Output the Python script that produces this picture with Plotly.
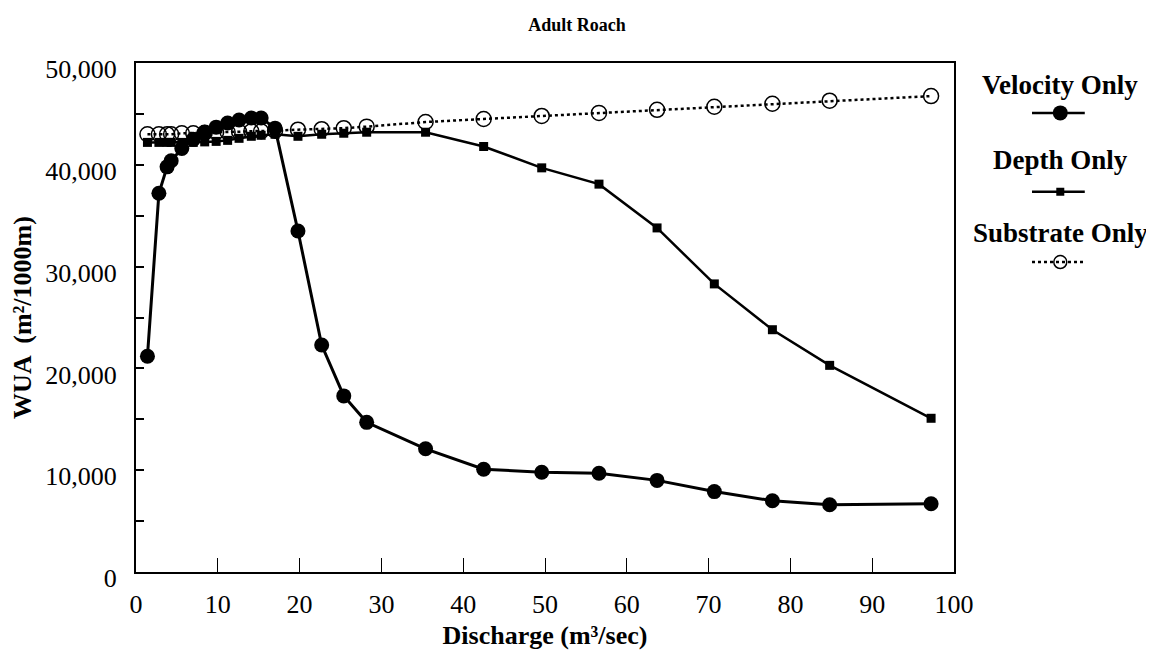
import plotly.graph_objects as go

discharge = [1.4, 2.8, 3.8, 4.3, 5.6, 7.0, 8.4, 9.8, 11.2, 12.6, 14.1, 15.3, 17.0,
             19.8, 22.7, 25.4, 28.2, 35.4, 42.5, 49.6, 56.6, 63.7, 70.7, 77.8, 84.8, 97.2]
velocity_only = [21200, 37200, 39800, 40400, 41600, 42500, 43200, 43700, 44100, 44400,
                 44600, 44600, 43600, 33500, 22300, 17300, 14700, 12100, 10100, 9800,
                 9700, 9000, 7900, 7000, 6600, 6700]
depth_only = [42200, 42200, 42200, 42200, 42200, 42200, 42250, 42300, 42400, 42600,
              42800, 42900, 43000, 42800, 43000, 43100, 43200, 43200, 41800, 39700,
              38100, 33800, 28300, 23800, 20300, 15100]
substrate_only = [43000, 43000, 43000, 43000, 43100, 43100, 43150, 43200, 43200, 43250,
                  43300, 43300, 43350, 43450, 43500, 43600, 43750, 44200, 44500, 44800,
                  45100, 45400, 45700, 46000, 46300, 46750]
series_names = ["Velocity Only", "Depth Only", "Substrate Only"]

FONT = "Liberation Serif, Times New Roman, serif"

fig = go.Figure()
fig.add_trace(go.Scatter(x=discharge, y=velocity_only, mode="lines+markers",
                         name=series_names[0], line=dict(color="black", width=3),
                         marker=dict(symbol="circle", size=15, color="black")))
fig.add_trace(go.Scatter(x=discharge, y=depth_only, mode="lines+markers",
                         name=series_names[1], line=dict(color="black", width=2.5),
                         marker=dict(symbol="square", size=9, color="black")))
fig.add_trace(go.Scatter(x=discharge, y=substrate_only, mode="lines+markers",
                         name=series_names[2], line=dict(color="black", width=2.5, dash="dot"),
                         marker=dict(symbol="circle-open", size=15, color="black",
                                     line=dict(width=1.5, color="black"))))

# legend samples drawn on an auxiliary hidden axis
leg_y = [0.902, 0.747, 0.609]
leg_text_y = [0.957, 0.809, 0.666]
styles = [
    dict(line=dict(color="black", width=2.5), marker=dict(symbol="circle", size=15, color="black")),
    dict(line=dict(color="black", width=2.5), marker=dict(symbol="square", size=8, color="black")),
    dict(line=dict(color="black", width=2.5, dash="dot"),
         marker=dict(symbol="circle-open", size=13, color="black", line=dict(width=1.5, color="black"))),
]
for name, yy, st in zip(series_names, leg_y, styles):
    fig.add_trace(go.Scatter(x=[0.326, 0.513, 0.675], y=[yy, yy, yy], mode="lines",
                             line=st["line"], xaxis="x2", yaxis="y2", showlegend=False,
                             hoverinfo="skip"))
    fig.add_trace(go.Scatter(x=[0.513], y=[yy], mode="markers", marker=st["marker"],
                             xaxis="x2", yaxis="y2", showlegend=False, hoverinfo="skip"))

annotations = []
for name, yy in zip(series_names, leg_text_y):
    annotations.append(dict(x=0.513, y=yy, xref="x2", yref="y2", text="<b>%s</b>" % name,
                            showarrow=False, font=dict(family=FONT, size=27, color="black"),
                            xanchor="center", yanchor="middle"))

fig.update_layout(
    width=1146, height=659,
    margin=dict(l=128, r=10, t=55, b=95, autoexpand=False),
    paper_bgcolor="white", plot_bgcolor="white",
    showlegend=False,
    title=dict(text="<b>Adult Roach</b>", x=0.4965, xanchor="center", y=0.974, yanchor="middle",
               font=dict(family=FONT, size=18, color="black")),
    font=dict(family=FONT, color="black"),
    xaxis=dict(range=[0, 100], dtick=10, tick0=0, showgrid=False, zeroline=False,
               showline=True, linecolor="black", linewidth=2, mirror=True, automargin=False,
               ticks="inside", ticklen=14, tickwidth=1, tickcolor="black",
               ticklabelstandoff=8,
               tickfont=dict(family=FONT, size=26, color="black"),
               title=dict(text="<b>Discharge (m³/sec)</b>", standoff=8,
                          font=dict(family=FONT, size=26, color="black")),
               domain=[0, 0.8115]),
    yaxis=dict(range=[0, 50000], dtick=10000, tick0=0, tickformat=",d", showgrid=False,
               zeroline=False, showline=True, linecolor="black", linewidth=2, mirror=True,
               automargin=False,
               ticks="inside", ticklen=8, tickwidth=1.5, tickcolor="black",
               minor=dict(dtick=5000, ticks="inside", ticklen=8, tickwidth=1.5, tickcolor="black"),
               ticklabelstandoff=12, ticklabelshift=6,
               tickfont=dict(family=FONT, size=26, color="black"),
               title=dict(text="<b>WUA  (m²/1000m)</b>", standoff=8,
                          font=dict(family=FONT, size=26, color="black"))),
    xaxis2=dict(domain=[0.84, 0.99], range=[0, 1], visible=False, anchor="y2", automargin=False),
    yaxis2=dict(domain=[0, 1], range=[0, 1], visible=False, anchor="x2", automargin=False),
    annotations=annotations,
)

fig.write_html("out.html")
